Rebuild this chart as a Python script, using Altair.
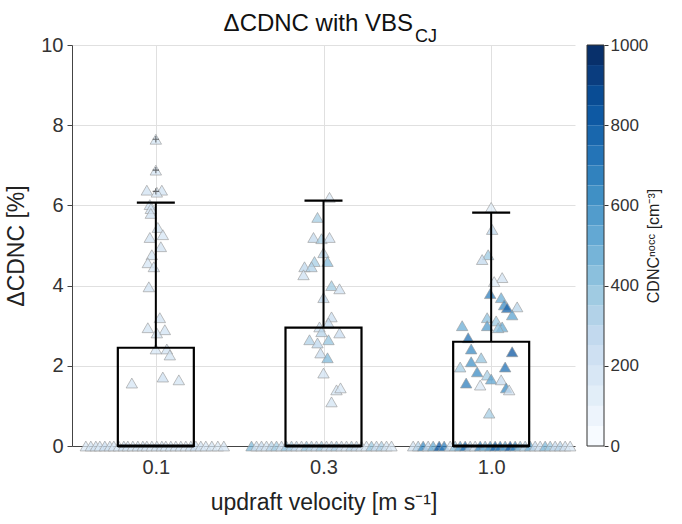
import altair as alt
import pandas as pd

FONT = "Liberation Sans"

categories = ["0.1", "0.3", "1.0"]

# Box statistics per category
q1 = [0.0, 0.0, 0.0]
median = [0.0, 0.0, 0.0]
q3 = [2.45, 2.95, 2.6]
whisk_hi = [6.07, 6.12, 5.82]

# Outliers (flier '+' markers)
out_cat = ["0.1", "0.1", "0.1"]
out_val = [7.65, 6.88, 6.35]

# Non-zero points: offsets in px from category centre, value, CDNC
g1_off = [0, 0, -9, 6, 1, -6, -5, -5, 2, 7, -6, 5, -4, -8, -2, -7, 4, -8, 9, 1, 0, 11, 14, -24, 7, 23]
g1_val = [7.65, 6.88, 6.38, 6.38, 6.33, 6.02, 5.92, 5.8, 5.45, 5.27, 5.2, 4.97, 4.77, 4.57, 4.47, 3.97,
          3.2, 2.95, 2.9, 2.82, 2.42, 2.42, 2.27, 1.57, 1.72, 1.65]
g1_cd = [180, 170, 200, 190, 160, 210, 190, 200, 180, 170, 190, 200, 180, 170, 160, 190,
         200, 180, 190, 170, 160, 200, 180, 170, 210, 180]

g2_off = [6, -6, -10, -2, 6, 0, -9, 4, -19, -12, -20, 8, 16, 0, 8, 5, -4, -2, 16, -14, -6, 5, -3, 4, 0, 13, 17, 8]
g2_val = [6.2, 5.7, 5.2, 5.17, 5.2, 4.82, 4.6, 4.6, 4.47, 4.47, 4.27, 4.0, 3.92, 3.7, 3.22, 3.07, 2.97,
          2.85, 2.82, 2.65, 2.57, 2.65, 2.32, 2.2, 1.82, 1.4, 1.45, 1.1]
g2_cd = [150, 350, 260, 350, 210, 300, 350, 430, 280, 320, 210, 370, 210, 270, 230, 270, 210,
         300, 240, 320, 280, 400, 230, 450, 190, 180, 160, 180]

g3_off = [0, 1, -3, -9, 11, 3, -1, 10, 13, 16, 26, 21, -29, -4, -4, 5, 11, 7, -23, -20, 21, -10,
          -31, -20, 14, -14, -4, 0, 10, -25, -11, 15, 18, -2]
g3_val = [5.95, 5.4, 4.77, 4.65, 4.2, 4.1, 3.8, 3.7, 3.52, 3.45, 3.47, 3.27, 3.0, 3.2, 3.0, 3.12, 2.97,
          2.95, 2.7, 2.42, 2.35, 2.2, 1.97, 2.1, 1.97, 1.85, 1.77, 1.67, 1.65, 1.57, 1.52, 1.45, 1.4, 0.82]
g3_cd = [120, 280, 380, 260, 200, 120, 700, 500, 650, 800, 300, 550, 500, 420, 580, 380, 520,
         420, 750, 650, 850, 400, 350, 620, 750, 650, 350, 550, 250, 700, 150, 650, 200, 350]

# Zero-valued points (swarm spread along the baseline)
z1_off = [-70, -65, -60, -56, -51, -46, -42, -37, -32, -28, -23, -18, -13, -9, -4, 1, 6, 10, 15, 20,
          25, 30, 35, 40, 45, 50, 56, 62, 68]
z1_cd = [150, 180, 200, 160, 230, 190, 170, 150, 210, 180, 160, 190, 200, 170, 150, 180, 200, 160,
         190, 170, 180, 150, 210, 230, 190, 160, 180, 140, 170]
z2_off = [-72, -67, -62, -57, -52, -47, -42, -37, -32, -27, -22, -17, -12, -7, -2, 3, 8, 13, 18, 23,
          28, 33, 38, 43, 48, 53, 58, 63, 68]
z2_cd = [450, 200, 250, 180, 300, 350, 220, 400, 330, 260, 200, 380, 300, 250, 350, 200, 280, 330,
         220, 180, 300, 250, 200, 150, 380, 220, 330, 180, 150]
z3_off = [-78, -73, -68, -63, -58, -52, -47, -41, -36, -31, -26, -21, -16, -11, -6, -1, 4, 9, 14,
          19, 24, 29, 34, 39, 44, 49, 54, 59, 64, 69, 74, 79]
z3_cd = [200, 300, 650, 250, 500, 850, 700, 150, 400, 550, 750, 300, 200, 650, 450, 600, 800, 700,
         550, 850, 650, 400, 300, 500, 250, 200, 450, 350, 250, 300, 200, 150]

# Colour map (matplotlib "Blues")
cmap_dom = [0, 125, 250, 375, 500, 625, 750, 875, 1000]
cmap_rng = ["#f7fbff", "#deebf7", "#c6dbef", "#9ecae1", "#6baed6", "#4292c6", "#2171b5", "#08519c", "#08306b"]
cbar_ticks = [0, 200, 400, 600, 800, 1000]
n_bins = 20

W, H = 503, 401
STEP = W / 3.0
BOX_HALF = 38 / STEP
CAP_HALF = 19 / STEP

# ---------- build tables ----------
rows = []
for ci, (offs, vals, cds) in enumerate([(g1_off, g1_val, g1_cd), (g2_off, g2_val, g2_cd), (g3_off, g3_val, g3_cd)]):
    for o, v, c in zip(offs, vals, cds):
        rows.append({"pos": ci + 0.5 + o / STEP, "val": v, "cdnc": c})
for ci, (offs, cds) in enumerate([(z1_off, z1_cd), (z2_off, z2_cd), (z3_off, z3_cd)]):
    for o, c in zip(offs, cds):
        rows.append({"pos": ci + 0.5 + o / STEP, "val": 0.0, "cdnc": c})
pts = pd.DataFrame(rows)

box = pd.DataFrame({
    "cat": categories,
    "c": [i + 0.5 for i in range(3)],
    "q1": q1, "med": median, "q3": q3, "hi": whisk_hi,
})
box["l"] = box["c"] - BOX_HALF
box["r"] = box["c"] + BOX_HALF
box["cl"] = box["c"] - CAP_HALF
box["cr"] = box["c"] + CAP_HALF

outl = pd.DataFrame({"pos": [categories.index(c) + 0.5 for c in out_cat], "val": out_val})

xscale = alt.Scale(domain=[0, 3], nice=False, zero=False)
yscale = alt.Scale(domain=[0, 10], nice=False)
label_expr = "datum.value < 1 ? '0.1' : (datum.value < 2 ? '0.3' : '1.0')"

xaxis = alt.Axis(values=[0.5, 1.5, 2.5], labelExpr=label_expr, title="updraft velocity [m s⁻¹]",
                 grid=True, gridColor="#e0e0e0", tickSize=2, tickColor="#555",
                 domainColor="#444", labelFontSize=20, titleFontSize=23, labelColor="#333",
                 titleColor="#222", titleFontWeight="normal", labelPadding=9, titlePadding=14)
yaxis = alt.Axis(values=[0, 2, 4, 6, 8, 10], title="ΔCDNC [%]", grid=True, gridColor="#e0e0e0",
                 tickSize=5, tickColor="#444", domainColor="#444", labelFontSize=20, titleFontSize=23,
                 labelColor="#333", titleColor="#222", titleFontWeight="normal", labelPadding=4,
                 titlePadding=12)

points = alt.Chart(pts).mark_point(shape="triangle-up", filled=True, size=130, stroke="#9a9a9a",
                                   strokeWidth=0.8, fillOpacity=0.75, strokeOpacity=0.8).encode(
    x=alt.X("pos:Q", scale=xscale, axis=xaxis),
    y=alt.Y("val:Q", scale=yscale, axis=yaxis),
    fill=alt.Fill("cdnc:Q", scale=alt.Scale(domain=cmap_dom, range=cmap_rng), legend=None),
)

boxes = alt.Chart(box).mark_rect(fillOpacity=0, stroke="black", strokeWidth=2.2).encode(
    x="l:Q", x2="r:Q", y="q1:Q", y2="q3:Q")
med = alt.Chart(box).mark_rule(color="black", strokeWidth=3).encode(x="l:Q", x2="r:Q", y="med:Q")
whisk = alt.Chart(box).mark_rule(color="black", strokeWidth=2).encode(x="c:Q", y="q3:Q", y2="hi:Q")
cap = alt.Chart(box).mark_rule(color="black", strokeWidth=2.2).encode(x="cl:Q", x2="cr:Q", y="hi:Q")
fl = alt.Chart(outl).mark_point(shape="M-1,0L1,0M0,-1L0,1", size=40, stroke="#333", strokeWidth=1.1,
                                filled=False).encode(x="pos:Q", y="val:Q")

t1 = alt.Chart(pd.DataFrame({"t": ["ΔCDNC with VBS"]})).mark_text(
    fontSize=24, align="right", baseline="alphabetic", color="#111").encode(
    text="t:N", x=alt.value(341), y=alt.value(-14))
t2 = alt.Chart(pd.DataFrame({"t": ["CJ"]})).mark_text(
    fontSize=18, align="left", baseline="alphabetic", color="#111").encode(
    text="t:N", x=alt.value(343), y=alt.value(-3))

main = alt.layer(points, boxes, med, whisk, cap, fl, t1, t2).properties(width=W, height=H)

# ---------- colour bar ----------
cb = pd.DataFrame({
    "lo": [i * 1000 / n_bins for i in range(n_bins)],
    "hi": [(i + 1) * 1000 / n_bins for i in range(n_bins)],
    "c": [i * 1000 / (n_bins - 1) for i in range(n_bins)],
})
cbar_rects = alt.Chart(cb).mark_rect().encode(
    y=alt.Y("lo:Q", scale=alt.Scale(domain=[0, 1000], nice=False),
            axis=alt.Axis(orient="right", values=cbar_ticks, format="d", title="CDNCⁿᵒᶜᶜ [cm⁻³]",
                          grid=False, domain=False, tickSize=4, tickColor="#333", labelFontSize=17,
                          labelColor="#333", titleFontSize=16, titleColor="#222",
                          titleFontWeight="normal", titleAngle=270, titlePadding=14)),
    y2="hi:Q",
    fill=alt.Fill("c:Q", scale=alt.Scale(domain=cmap_dom, range=cmap_rng), legend=None),
)
cbar_frame = alt.Chart(pd.DataFrame({"a": [0], "b": [1000]})).mark_rect(
    fillOpacity=0, stroke="#333", strokeWidth=1).encode(
    y="a:Q", y2="b:Q", x=alt.value(0), x2=alt.value(17))
cbar = alt.layer(cbar_rects, cbar_frame).properties(width=17, height=H)

chart = alt.hconcat(main, cbar, spacing=8).resolve_scale(fill="independent", y="independent").configure(
    font=FONT, padding={"left": 5, "top": 12, "right": 5, "bottom": 5}
).configure_view(strokeWidth=0)

chart.save("out.html", embed_options={"renderer": "svg", "actions": False})
